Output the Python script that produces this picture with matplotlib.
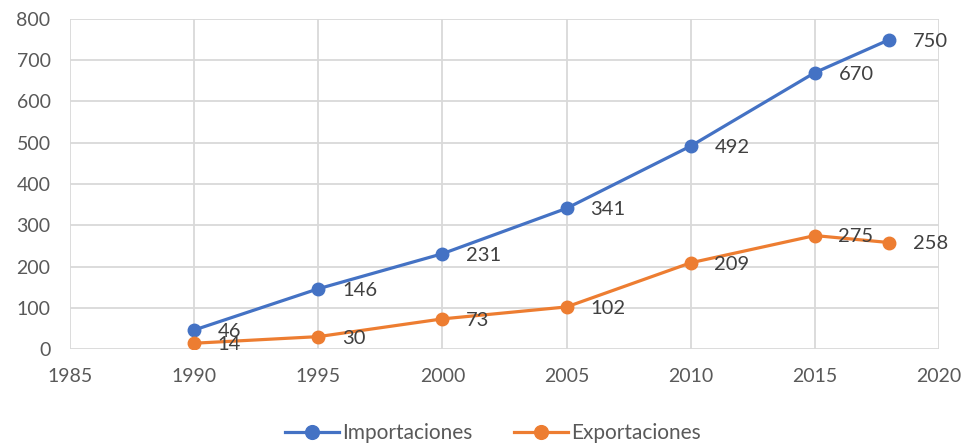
import matplotlib.pyplot as plt

plt.rcParams['font.family'] = ['Lato', 'DejaVu Sans']

years = [1990, 1995, 2000, 2005, 2010, 2015, 2018]
importaciones = [46, 146, 231, 341, 492, 670, 750]
exportaciones = [14, 30, 73, 102, 209, 275, 258]

blue = '#4472C4'
orange = '#ED7D31'
txt = '#595959'
lbl = '#404040'

fig = plt.figure(figsize=(9.67, 4.46), dpi=100)
ax = fig.add_axes([70 / 967, 1 - 349 / 446, 869 / 967, 330 / 446])

ax.plot(years, importaciones, color=blue, lw=2.3, marker='o', ms=9, label='Importaciones', zorder=3)
ax.plot(years, exportaciones, color=orange, lw=2.3, marker='o', ms=9, label='Exportaciones', zorder=3)

for x, y in zip(years, importaciones):
    ax.annotate(str(y), (x, y), xytext=(17, -1), textcoords='offset points',
                ha='left', va='center', fontsize=14.5, color=lbl, zorder=4)
for x, y in zip(years, exportaciones):
    ax.annotate(str(y), (x, y), xytext=(17, -1), textcoords='offset points',
                ha='left', va='center', fontsize=14.5, color=lbl, zorder=4)

ax.set_xlim(1985, 2020)
ax.set_ylim(0, 800)
ax.set_xticks(range(1985, 2021, 5))
ax.set_yticks(range(0, 801, 100))
ax.grid(True, color='#D9D9D9', lw=1.3)
ax.set_axisbelow(True)
for s in ax.spines.values():
    s.set_visible(False)
ax.tick_params(length=0, labelsize=14, labelcolor=txt, pad=14)

fig.legend(loc='lower center', bbox_to_anchor=(0.51, -0.035), ncol=2, frameon=False,
           fontsize=15, labelcolor=txt, handlelength=2.6, handletextpad=0.15,
           columnspacing=2.0, markerscale=1.1)

fig.savefig('out.png', dpi=100)
